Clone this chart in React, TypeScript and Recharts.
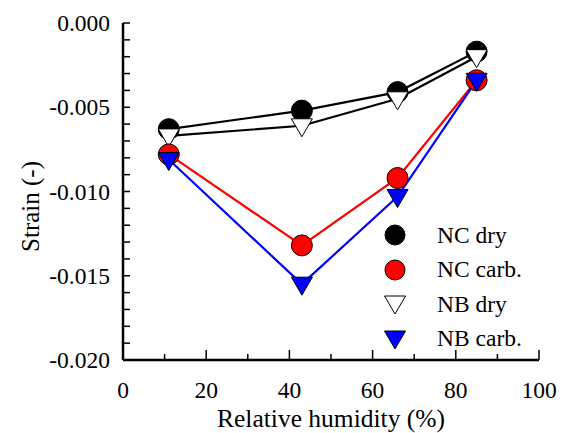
import { Legend, Line, LineChart, XAxis, YAxis } from "recharts";

const humidity = [11, 43, 66, 85];
const ncDry = [-0.0063, -0.0052, -0.0041, -0.0017];
const ncCarb = [-0.0078, -0.0132, -0.0092, -0.0034];
const nbDry = [-0.0067, -0.0061, -0.0045, -0.002];
const nbCarb = [-0.0081, -0.0155, -0.0103, -0.0034];

const xTicks = [0, 10, 20, 30, 40, 50, 60, 70, 80, 90, 100];
const yTicks = [
  0, -0.001, -0.002, -0.003, -0.004, -0.005, -0.006, -0.007, -0.008, -0.009, -0.01,
  -0.011, -0.012, -0.013, -0.014, -0.015, -0.016, -0.017, -0.018, -0.019, -0.02,
];
const yLabels = [0, -0.005, -0.01, -0.015, -0.02];

const data = humidity.map((rh, i) => ({
  rh,
  ncDry: ncDry[i],
  ncCarb: ncCarb[i],
  nbDry: nbDry[i],
  nbCarb: nbCarb[i],
}));

const FONT = "Liberation Serif";
const FS = 23.5;

const isLabelled = (v: number) => yLabels.some((l) => Math.abs(l - v) < 1e-9);

// left axis: labels outside, ticks drawn inwards
function LeftTick(props: any) {
  const { x, y, payload } = props;
  const ax = x + 13;
  const v = payload.value as number;
  return (
    <g>
      <line x1={ax} x2={ax + 7} y1={y} y2={y} stroke="#000" strokeWidth={1.5} />
      {isLabelled(v) && (
        <text x={x} y={y} textAnchor="end" dominantBaseline="central" fontSize={FS} fontFamily={FONT} fill="#000">
          {v.toFixed(3)}
        </text>
      )}
    </g>
  );
}

function RightTick(props: any) {
  const { x, y } = props;
  const ax = x - 4;
  return <line x1={ax} x2={ax - 7} y1={y} y2={y} stroke="#000" strokeWidth={1.5} />;
}

function BottomTick(props: any) {
  const { x, y, payload } = props;
  const ay = y - 30;
  const v = payload.value as number;
  const major = v % 20 === 0;
  return (
    <g>
      <line x1={x} x2={x} y1={ay} y2={ay - (major ? 10 : 6)} stroke="#000" strokeWidth={1.5} />
      {major && (
        <text x={x} y={y} textAnchor="middle" dominantBaseline="central" fontSize={FS} fontFamily={FONT} fill="#000">
          {v}
        </text>
      )}
    </g>
  );
}

function TopTick(props: any) {
  const { x, y } = props;
  const ay = y + 4;
  return <line x1={x} x2={x} y1={ay} y2={ay + 7} stroke="#000" strokeWidth={1.5} />;
}

function Circle(props: any) {
  const { cx, cy, fill } = props;
  if (cx == null || cy == null) return null;
  return <circle key={`c-${cx}-${cy}`} cx={cx} cy={cy} r={10.5} fill={fill} stroke="#000" strokeWidth={1} />;
}

function Triangle(props: any) {
  const { cx, cy, fill } = props;
  if (cx == null || cy == null) return null;
  const pts = `${cx - 10.5},${cy - 7} ${cx + 10.5},${cy - 7} ${cx},${cy + 11}`;
  return <polygon key={`t-${cx}-${cy}`} points={pts} fill={fill} stroke="#000" strokeWidth={1} />;
}

const legendItems = [
  { name: "NC dry", shape: "circle", fill: "#000" },
  { name: "NC carb.", shape: "circle", fill: "#ff0000" },
  { name: "NB dry", shape: "triangle", fill: "#fff" },
  { name: "NB carb.", shape: "triangle", fill: "#0000ff" },
];

function LegendBox() {
  return (
    <div style={{ fontFamily: FONT, fontSize: FS, color: "#000" }}>
      {legendItems.map((it) => (
        <div key={it.name} style={{ display: "flex", alignItems: "center", height: 34.5 }}>
          <svg width={24} height={24} style={{ display: "block" }}>
            {it.shape === "circle" ? (
              <circle cx={12} cy={12} r={10} fill={it.fill} stroke="#000" strokeWidth={1} />
            ) : (
              <polygon points="1.5,4 22.5,4 12,22" fill={it.fill} stroke="#000" strokeWidth={1} />
            )}
          </svg>
          <span style={{ marginLeft: 30, whiteSpace: "nowrap", lineHeight: 1 }}>{it.name}</span>
        </div>
      ))}
    </div>
  );
}

export default function App() {
  return (
    <div style={{ position: "absolute", left: 0, top: 0, width: 564, height: 433, background: "#fff" }}>
      <LineChart
        width={564}
        height={433}
        data={data}
        margin={{ top: 23, right: 25, left: 0, bottom: 0 }}
        style={{ fontFamily: FONT }}
      >
        <XAxis
          dataKey="rh"
          type="number"
          domain={[0, 100]}
          ticks={xTicks}
          interval={0}
          height={73}
          tickSize={0}
          tickMargin={30}
          tickLine={false}
          axisLine={{ stroke: "#000", strokeWidth: 2.5 }}
          tick={<BottomTick />}
          label={({ viewBox }: any) => (
            <text
              x={viewBox.x + viewBox.width / 2}
              y={viewBox.y + 58}
              textAnchor="middle"
              dominantBaseline="central"
              fontSize={25.5}
              fontFamily={FONT}
              fill="#000"
            >
              Relative humidity (%)
            </text>
          )}
        />
        <XAxis
          xAxisId="top"
          orientation="top"
          dataKey="rh"
          type="number"
          domain={[0, 100]}
          ticks={xTicks}
          interval={0}
          height={0}
          tickSize={0}
          tickMargin={4}
          tickLine={false}
          axisLine={{ stroke: "#000", strokeWidth: 2.5 }}
          tick={<TopTick />}
        />
        <YAxis
          type="number"
          domain={[-0.02, 0]}
          ticks={yTicks}
          interval={0}
          width={123}
          tickSize={0}
          tickMargin={13}
          tickLine={false}
          axisLine={{ stroke: "#000", strokeWidth: 2.5 }}
          tick={<LeftTick />}
          label={({ viewBox }: any) => {
            const lx = 30;
            const ly = viewBox.y + viewBox.height / 2 + 15;
            return (
              <text
                x={lx}
                y={ly}
                transform={`rotate(-90, ${lx}, ${ly})`}
                textAnchor="middle"
                dominantBaseline="central"
                fontSize={25}
                fontFamily={FONT}
                fill="#000"
              >
                Strain (-)
              </text>
            );
          }}
        />
        <YAxis
          yAxisId="right"
          orientation="right"
          type="number"
          domain={[-0.02, 0]}
          ticks={yTicks}
          interval={0}
          width={0}
          tickSize={0}
          tickMargin={4}
          tickLine={false}
          axisLine={{ stroke: "#000", strokeWidth: 2.5 }}
          tick={<RightTick />}
        />
        <Line dataKey="ncDry" type="linear" stroke="#000" strokeWidth={2.2} fill="#000" dot={<Circle />} isAnimationActive={false} />
        <Line dataKey="nbDry" type="linear" stroke="#000" strokeWidth={2.2} fill="#fff" dot={<Triangle />} isAnimationActive={false} />
        <Line dataKey="ncCarb" type="linear" stroke="#ff0000" strokeWidth={2.2} fill="#ff0000" dot={<Circle />} isAnimationActive={false} />
        <Line dataKey="nbCarb" type="linear" stroke="#0000ff" strokeWidth={2.2} fill="#0000ff" dot={<Triangle />} isAnimationActive={false} />
        <Legend
          layout="vertical"
          align="center"
          verticalAlign="middle"
          content={() => <LegendBox />}
          wrapperStyle={{ position: "absolute", left: 383, top: 218, width: 175 }}
        />
      </LineChart>
    </div>
  );
}
